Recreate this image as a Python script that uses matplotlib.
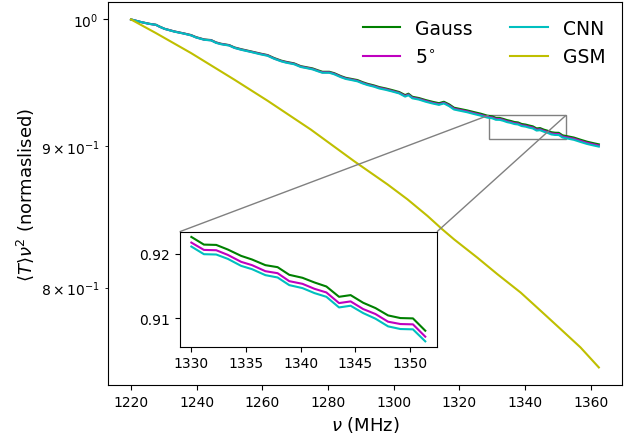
import numpy as np
import matplotlib
matplotlib.use("Agg")
import matplotlib.pyplot as plt
from mpl_toolkits.axes_grid1.inset_locator import mark_inset


# band-averaged brightness times nu^2, normalised to the first channel
# lower part of the band
nu_lo = [1220.0, 1223.1, 1225.6, 1227.6, 1228.6, 1230.2, 1233.2, 1236.2, 1238.3, 1239.8,
         1242.3, 1244.4, 1245.9, 1247.4, 1249.9, 1251.5, 1253.5, 1256.5, 1259.6, 1261.6,
         1263.6, 1265.8, 1267.2, 1269.7, 1271.7, 1273.3, 1275.3, 1276.8, 1278.3, 1280.4,
         1281.9, 1283.9, 1285.4, 1287.0, 1289.0, 1290.5, 1292.0, 1294.0, 1295.6, 1297.6,
         1299.6, 1301.7, 1303.5, 1304.5, 1305.7, 1307.7, 1309.8, 1311.8, 1313.8, 1315.3,
         1316.9, 1318.4, 1319.9, 1322.4, 1324.5, 1326.5, 1328.5]
gauss_lo = [1.0000, 0.9978, 0.9964, 0.9956, 0.9942, 0.9923, 0.9901, 0.9884, 0.9871, 0.9854,
            0.9835, 0.9830, 0.9811, 0.9800, 0.9789, 0.9770, 0.9756, 0.9738, 0.9719, 0.9708,
            0.9684, 0.9663, 0.9654, 0.9641, 0.9619, 0.9611, 0.9601, 0.9587, 0.9574, 0.9574,
            0.9563, 0.9540, 0.9526, 0.9518, 0.9508, 0.9492, 0.9479, 0.9466, 0.9453, 0.9442,
            0.9429, 0.9414, 0.9390, 0.9401, 0.9377, 0.9367, 0.9351, 0.9338, 0.9327, 0.9338,
            0.9318, 0.9292, 0.9284, 0.9271, 0.9258, 0.9246, 0.9231]
deg5_lo = [1.0000, 0.9978, 0.9963, 0.9955, 0.9941, 0.9922, 0.9900, 0.9883, 0.9869, 0.9852,
           0.9833, 0.9828, 0.9809, 0.9798, 0.9787, 0.9767, 0.9753, 0.9735, 0.9716, 0.9705,
           0.9680, 0.9659, 0.9650, 0.9637, 0.9615, 0.9607, 0.9596, 0.9582, 0.9569, 0.9569,
           0.9558, 0.9535, 0.9521, 0.9513, 0.9502, 0.9486, 0.9473, 0.9460, 0.9447, 0.9436,
           0.9422, 0.9407, 0.9383, 0.9394, 0.9370, 0.9360, 0.9344, 0.9330, 0.9319, 0.9330,
           0.9310, 0.9284, 0.9276, 0.9263, 0.9249, 0.9237, 0.9222]
cnn_lo = [1.0000, 0.9978, 0.9963, 0.9955, 0.9941, 0.9922, 0.9899, 0.9882, 0.9868, 0.9851,
          0.9832, 0.9827, 0.9807, 0.9796, 0.9785, 0.9766, 0.9751, 0.9733, 0.9713, 0.9702,
          0.9678, 0.9657, 0.9647, 0.9634, 0.9612, 0.9604, 0.9593, 0.9579, 0.9566, 0.9566,
          0.9554, 0.9531, 0.9517, 0.9509, 0.9498, 0.9482, 0.9469, 0.9456, 0.9442, 0.9431,
          0.9418, 0.9403, 0.9378, 0.9389, 0.9365, 0.9355, 0.9338, 0.9325, 0.9314, 0.9325,
          0.9304, 0.9278, 0.9270, 0.9257, 0.9243, 0.9231, 0.9216]

# channels shown in the zoom panel
nu_zoom = [1330.00, 1331.15, 1332.28, 1333.34, 1334.56, 1335.56, 1336.78, 1337.90, 1338.97, 1340.18,
           1341.28, 1342.37, 1343.53, 1344.59, 1345.74, 1346.87, 1348.02, 1349.15, 1350.30, 1351.43]
gauss_zoom = [0.92256, 0.92138, 0.92133, 0.92062, 0.91964, 0.91908, 0.91821, 0.91790, 0.91672, 0.91626,
              0.91554, 0.91492, 0.91333, 0.91359, 0.91241, 0.91159, 0.91046, 0.91005, 0.91000, 0.90810]
deg5_zoom = [0.92169, 0.92056, 0.92051, 0.91979, 0.91872, 0.91821, 0.91728, 0.91697, 0.91574, 0.91533,
             0.91456, 0.91400, 0.91236, 0.91262, 0.91144, 0.91067, 0.90949, 0.90913, 0.90908, 0.90718]
cnn_zoom = [0.92108, 0.91990, 0.91985, 0.91918, 0.91810, 0.91759, 0.91667, 0.91631, 0.91513, 0.91467,
            0.91390, 0.91333, 0.91169, 0.91195, 0.91082, 0.90995, 0.90877, 0.90836, 0.90831, 0.90646]

# top end of the band
nu_hi = [1352.9, 1354.9, 1356.9, 1358.9, 1361.0, 1362.5]
gauss_hi = [0.9074, 0.9064, 0.9048, 0.9033, 0.9021, 0.9013]
deg5_hi = [0.9065, 0.9055, 0.9039, 0.9024, 0.9012, 0.9004]
cnn_hi = [0.9057, 0.9047, 0.9031, 0.9016, 0.9004, 0.8996]

# global sky model
nu_gsm = [1220.0, 1227.6, 1238.3, 1251.5, 1261.6, 1274.8, 1288.0, 1291.5, 1298.1, 1304.2,
          1310.3, 1314.8, 1318.4, 1325.5, 1331.6, 1338.7, 1344.8, 1350.9, 1356.9, 1362.5]
gsm = [1.0000, 0.9887, 0.9724, 0.9511, 0.9346, 0.9124, 0.8887, 0.8828, 0.8718, 0.8610,
       0.8492, 0.8398, 0.8328, 0.8202, 0.8090, 0.7967, 0.7847, 0.7728, 0.7612, 0.7486]

nu = np.concatenate([nu_lo, nu_zoom, nu_hi])
gauss = np.concatenate([gauss_lo, gauss_zoom, gauss_hi])
deg5 = np.concatenate([deg5_lo, deg5_zoom, deg5_hi])
cnn = np.concatenate([cnn_lo, cnn_zoom, cnn_hi])

fig, ax = plt.subplots(figsize=(6.33, 4.35), dpi=100)
fig.subplots_adjust(left=0.170, right=0.983, top=0.993, bottom=0.113)

ax.plot(nu, gauss, color='g', label='Gauss')
ax.plot(nu, deg5, color='m', label=r'5$^{\circ}$')
ax.plot(nu, cnn, color='c', label='CNN')
ax.plot(nu_gsm, gsm, color='y', label='GSM')
ax.set_yscale('log')
ax.set_xlabel(r'$\nu$ (MHz)', fontsize=13)
ax.set_ylabel(r'$\langle T\rangle\nu^2$ (normaslised)', fontsize=13)
ax.legend(ncol=2, frameon=False, fontsize=13.5, loc='upper right')

# zoom on a stretch of the upper band
axins = ax.inset_axes([0.14, 0.10, 0.50, 0.30])
axins.plot(nu_zoom, gauss_zoom, color='g')
axins.plot(nu_zoom, deg5_zoom, color='m')
axins.plot(nu_zoom, cnn_zoom, color='c')
axins.set_yticks([0.91, 0.92])
mark_inset(ax, axins, loc1=1, loc2=2, fc='none', ec='0.5')

plt.savefig('out.png')
